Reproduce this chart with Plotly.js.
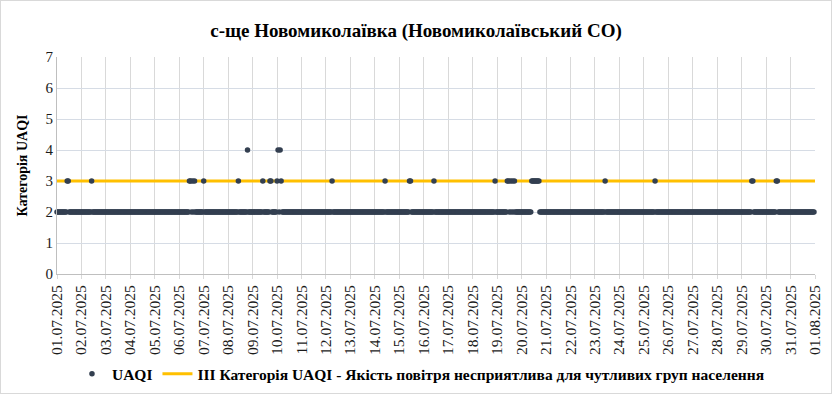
<!DOCTYPE html>
<html>
<head>
<meta charset="utf-8">
<script src="https://cdn.plot.ly/plotly-3.0.1.min.js"></script>
<style>
html,body{margin:0;padding:0;background:#fff;}
#wrap{width:832px;height:394px;box-sizing:border-box;border:1px solid #d9d9d9;overflow:hidden;}
#chart{width:830px;height:392px;}
</style>
</head>
<body>
<div id="wrap"><div id="chart"></div></div>
<script>
// ---- data (hourly UAQI category, one string per day, 24 hours each) ----
const startDate = '2025-07-01';
const endDate = '2025-08-01';
const uaqiByDay = [
  '222222222233222222222222', // 01.07
  '222222222232222222222222', // 02.07
  '222222222222222222222222', // 03.07
  '222222222222222222222222', // 04.07
  '222222222222222222222222', // 05.07
  '222222222233232322222222', // 06.07
  '322222222222222222222222', // 07.07
  '222222222232222222242222', // 08.07
  '222222222232222223322222', // 09.07
  '342432222222222222222222', // 10.07
  '222222222222222222222222', // 11.07
  '222222322222222222222222', // 12.07
  '222222222222222222222222', // 13.07
  '222222222232222222222222', // 14.07
  '222222222233222222222222', // 15.07
  '222222222232222222222222', // 16.07
  '222222222222222222222222', // 17.07
  '222222222222222222222232', // 18.07
  '222222222233232323222222', // 19.07
  '222222222233333333222222', // 20.07
  '222222222222222222222222', // 21.07
  '222222222222222222222222', // 22.07
  '222222222232222222222222', // 23.07
  '222222222222222222222222', // 24.07
  '222222222223222222222222', // 25.07
  '222222222222222222222222', // 26.07
  '222222222222222222222222', // 27.07
  '222222222222222222222222', // 28.07
  '222222222233222222222222', // 29.07
  '222222222233222222222222', // 30.07
  '222222222222222222222222'  // 31.07
];
const thresholdValue = 3;
const seriesName = 'UAQI';
const thresholdName = 'III Категорія UAQI - Якість повітря несприятлива для чутливих груп населення';
const chartTitle = 'с-ще Новомиколаївка (Новомиколаївський СО)';
const yTitle = 'Категорія UAQI';

// ---- build hourly series ----
const pad = n => String(n).padStart(2, '0');
const x = [], y = [];
uaqiByDay.forEach((day, d) => {
  for (let h = 0; h < day.length; h++) {
    const dt = new Date(Date.UTC(2025, 6, 1 + d, h));
    x.push(dt.getUTCFullYear() + '-' + pad(dt.getUTCMonth() + 1) + '-' + pad(dt.getUTCDate()) + ' ' + pad(h) + ':00');
    y.push(Number(day[h]));
  }
});

const serif = 'Liberation Serif';

const traces = [
  {
    type: 'scatter', mode: 'markers', name: seriesName,
    x: x, y: y, cliponaxis: false,
    marker: {color: '#333F50', size: 5.5}
  },
  {
    type: 'scatter', mode: 'lines', name: thresholdName,
    x: [startDate + ' 00:00', endDate + ' 00:00'], y: [thresholdValue, thresholdValue],
    line: {color: '#FFC000', width: 3}
  }
];
const ordered = [traces[1], traces[0]];

const layout = {
  width: 830, height: 392,
  margin: {l: 56, r: 16, t: 56, b: 119},
  paper_bgcolor: '#fff', plot_bgcolor: '#fff',
  font: {family: serif},
  title: {text: '<b>' + chartTitle + '</b>', x: 0.5, xanchor: 'center', y: 0.925, yanchor: 'middle',
          font: {family: serif, size: 19, color: '#000'}},
  showlegend: true,
  legend: {orientation: 'h', x: 0.506, xanchor: 'center', xref: 'container', yref: 'container',
           y: 0.048, yanchor: 'middle',
           font: {family: serif, size: 15.5, color: '#000', weight: 'bold'}, traceorder: 'reversed'},
  xaxis: {
    type: 'date', automargin: false,
    range: [startDate + ' 00:00', endDate + ' 00:00'],
    tickmode: 'linear', tick0: startDate, dtick: 86400000,
    tickformat: '%d.%m.%Y', tickangle: -90,
    tickfont: {family: serif, size: 15.5, color: '#1a1a1a'},
    showgrid: true, gridcolor: '#d9d9d9', gridwidth: 1,
    showline: true, linecolor: '#bfbfbf', linewidth: 1,
    ticks: 'outside', ticklen: 4, tickcolor: '#d9d9d9',
    zeroline: false, fixedrange: true
  },
  yaxis: {
    automargin: false,
    range: [0, 7], tickmode: 'linear', tick0: 0, dtick: 1,
    tickfont: {family: serif, size: 15, color: '#1a1a1a'},
    showgrid: true, gridcolor: '#d6dce5', gridwidth: 1,
    showline: true, linecolor: '#bfbfbf', linewidth: 1,
    zeroline: false, ticks: '', ticklen: 0,
    title: {text: '<b>' + yTitle + '</b>', font: {family: serif, size: 14, color: '#000'}, standoff: 14}
  }
};

Plotly.newPlot('chart', ordered, layout, {displayModeBar: false, staticPlot: true});
</script>
</body>
</html>
